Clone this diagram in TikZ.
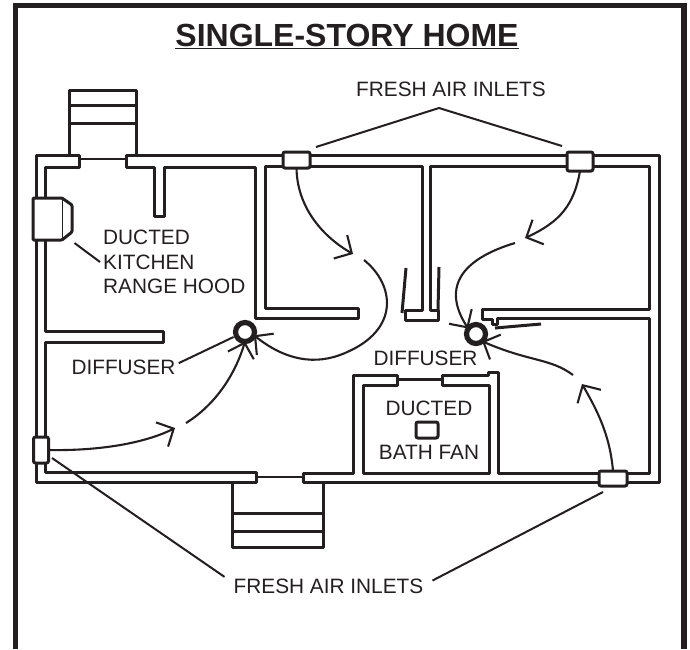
\documentclass[tikz,border=0pt]{standalone}
\usepackage{fontspec}
\setmainfont{Liberation Sans}
\usetikzlibrary{arrows.meta}
\definecolor{ink}{HTML}{231F20}
\newcommand{\lblsize}{\fontsize{20.8}{24}\selectfont}

\begin{document}
\begin{tikzpicture}[x=1pt,y=-1pt,color=ink,text=ink,>={Straight Barb[length=13pt,width=27pt]}]
\tikzstyle{wall}=[line width=3,line join=round]
\tikzstyle{door}=[line width=2]
\tikzstyle{leader}=[line width=2]
\tikzstyle{flow}=[line width=2.1,->]
\tikzstyle{lbl}=[inner sep=3,font=\lblsize]
\tikzstyle{inlet}=[draw,fill=white,line width=3,rounded corners=2,inner sep=0,outer sep=0]
\tikzstyle{diffuser}=[draw,circle,fill=white,line width=5.2,minimum size=19,inner sep=0,outer sep=0]
\useasboundingbox (0,0) rectangle (690,649);
\draw[line width=5.2] (15.8,649) -- (15.8,5.6) -- (684,5.6) -- (684,649);
\node[inner sep=0,font=\fontsize{32}{36}\selectfont\bfseries] (title) at (347,36) {\underline{SINGLE-STORY HOME}};
\begin{scope}
\draw[wall] (69,155) -- (69,90) -- (136,90) -- (136,155);
\draw[wall] (69,105) -- (136,105);
\draw[wall] (69,123) -- (136,123);
\draw[wall] (232,482) -- (232,547) -- (323,547) -- (323,482);
\draw[wall] (232,513) -- (323,513);
\draw[wall] (232,531) -- (323,531);
\end{scope}
\draw[wall] (79,155) -- (36,155) -- (36,482) -- (256,482) -- (256,472) -- (45,472) -- (45,342) -- (163,342) -- (163,331) -- (45,331) -- (45,167) -- (79,167) -- cycle;
\draw[wall] (126,155) -- (659,155) -- (659,482) -- (303,482) -- (303,473) -- (353,473) -- (353,375) -- (397,375) -- (397,385) -- (363,385) -- (363,473) -- (489,473) -- (489,385) -- (442,385) -- (442,375) -- (488,375) -- (488,372) -- (498,372) -- (498,473) -- (649,473) -- (649,318) -- (497,318) -- (497,324) -- (492,324) -- (492,319) -- (482,319) -- (482,309) -- (649,309) -- (649,166) -- (430,166) -- (430,310) -- (438,310) -- (438,320) -- (405,320) -- (405,310) -- (422,310) -- (422,166) -- (265,166) -- (265,308) -- (358,308) -- (358,318) -- (255,318) -- (255,167) -- (164,167) -- (164,216) -- (154,216) -- (154,167) -- (126,167) -- cycle;
\draw[door] (79,159) -- (126,159);
\draw[door] (256,477) -- (303,477);
\draw[wall] (397,379) -- (442,379);
\draw[wall] (406,268) -- (402,313);
\draw[wall] (439,267) -- (438,310);
\draw[wall] (495,328) -- (541,324);
\draw[wall,fill=white,rounded corners=1] (33,198) -- (62,198) -- (72,205) -- (72,232) -- (62,240) -- (33,240) -- cycle;
\draw[line width=0.8] (62,198) -- (62,240);
\node[inlet,minimum width=15,minimum height=26] (inA) at (41,450) {};
\node[inlet,minimum width=27,minimum height=16] (inB) at (296.5,160) {};
\node[inlet,minimum width=26,minimum height=19] (inC) at (580,161.5) {};
\node[inlet,minimum width=28,minimum height=15] (inD) at (613,478.5) {};
\node[inlet,minimum width=22,minimum height=16] (fan) at (427,430) {};
\node[diffuser] (dfA) at (245,332) {};
\node[diffuser] (dfB) at (476,334) {};
\node[lbl,anchor=west] (hoodA) at (100,237) {DUCTED};
\node[lbl,anchor=west] (hoodB) at (100,262) {KITCHEN};
\node[lbl,anchor=west] (hoodC) at (100,286) {RANGE HOOD};
\node[lbl] (dfusA) at (123.5,367) {DIFFUSER};
\node[lbl] (dfusB) at (425.5,358) {DIFFUSER};
\node[lbl] (bathA) at (429,408) {DUCTED};
\node[lbl] (bathB) at (429,452) {BATH FAN};
\node[lbl] (airA) at (451,89) {FRESH AIR INLETS};
\node[lbl,inner xsep=9] (airB) at (328.5,586) {FRESH AIR INLETS};
\coordinate (peak) at (439,108);
\coordinate (lkA) at (316,147);
\coordinate (lkB) at (562,146);
\coordinate (lkC) at (52,458);
\coordinate (lkD) at (603,492);
\coordinate (lkE) at (74.5,243);
\draw[leader] (lkA) -- (peak) -- (lkB);
\draw[leader] (lkC) -- (airB.175);
\draw[leader] (lkD) -- (airB.3);
\draw[leader] (lkE) -- (hoodB.west);
\draw[leader,shorten >=3] (dfusA.4) -- (dfA.203);
\coordinate (tipA) at (175,428);
\coordinate (tailA) at (186,423);
\coordinate (tipB) at (353,254);
\coordinate (tailB) at (364,260);
\coordinate (tipC) at (525,238);
\coordinate (tailC) at (515,243);
\coordinate (tipD) at (582,384);
\coordinate (tailD) at (573,375);
\draw[flow] (inA.east) .. controls (100,451) and (145,443) .. (tipA);
\draw[flow] (tailA) .. controls (215,405) and (235,375) .. (dfA.south);
\draw[flow] (inB.south) .. controls (297,205) and (320,235) .. (tipB);
\draw[line width=2.1] (tailB) .. controls (395,285) and (400,330) .. (345,353) coordinate (bendA);
\draw[flow] (bendA) .. controls (315,366) and (285,360) .. (dfA.-20);
\draw[flow] (inC.south) .. controls (574,205) and (560,222) .. (tipC);
\draw[flow] (tailC) .. controls (465,258) and (440,285) .. (dfB.145);
\draw[flow] (inD.north) .. controls (610,435) and (597,410) .. (tipD);
\draw[flow] (tailD) .. controls (550,358) and (530,362) .. (dfB.-50);
\end{tikzpicture}
\end{document}
